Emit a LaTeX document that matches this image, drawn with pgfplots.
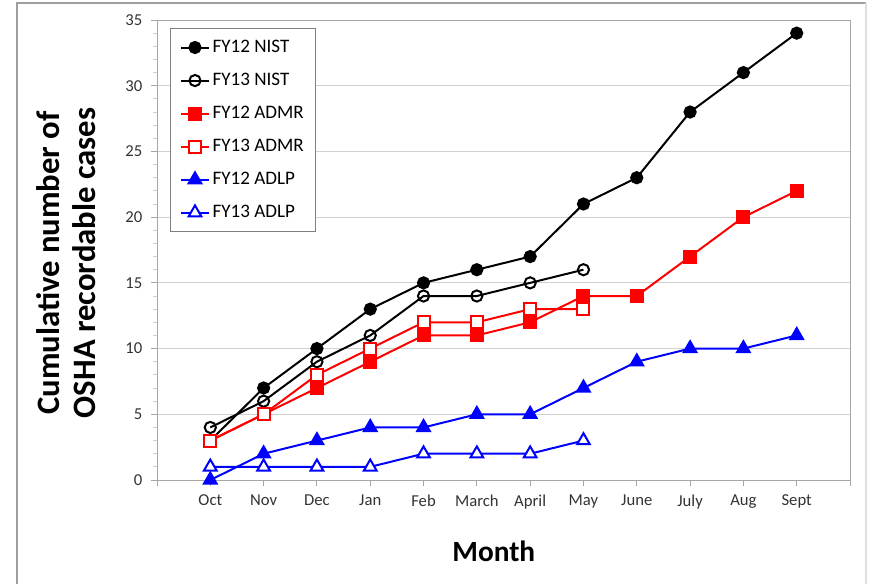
\documentclass[border=0pt]{standalone}
\usepackage{fontspec}
\setmainfont{Carlito}
\usepackage{pgfplots}
\pgfplotsset{compat=1.18}

\definecolor{axgray}{HTML}{A6A6A6}
\definecolor{gridgray}{HTML}{D0D0D0}
\definecolor{txtgray}{HTML}{333333}

\pgfplotstableread{
x nist12 nist13 admr12 admr13 adlp12 adlp13
0  3  4  3  3  0  1
1  7  6  5  5  2  1
2 10  9  7  8  3  1
3 13 11  9 10  4  1
4 15 14 11 12  4  2
5 16 14 11 12  5  2
6 17 15 12 13  5  2
7 21 16 14 13  7  3
8 23 nan 14 nan 9 nan
9 28 nan 17 nan 10 nan
10 31 nan 20 nan 10 nan
11 34 nan 22 nan 11 nan
}\cases

\begin{document}
\begin{tikzpicture}[x=1pt,y=1pt]
\path[use as bounding box] (0,0) rectangle (654.75,437.25);
\draw[gray!75, line width=0.8pt] (12.75,-2) -- (12.75,435) -- (649.5,435);
\draw[gray!25, line width=0.8pt] (649.5,435) -- (649.5,-2);
\begin{axis}[
  at={(117.75pt,77.25pt)}, anchor=south west,
  scale only axis, width=519.75pt, height=345pt,
  xmin=-1, xmax=12, ymin=0, ymax=35,
  xtick={-1,0,...,12},
  xticklabels={,Oct,Nov,Dec,Jan,Feb,March,April,May,June,July,Aug,Sept,},
  ytick={0,5,...,35}, minor y tick num=4,
  xtick pos=bottom, ytick pos=left,
  tick align=outside,
  major tick length=4.5pt, minor tick length=3pt,
  ymajorgrids,
  grid style={draw=gridgray, line width=0.75pt},
  axis line style={draw=axgray, line width=0.75pt},
  major tick style={draw=axgray, line width=0.75pt},
  minor tick style={draw=gridgray, line width=0.75pt},
  ticklabel style={font=\fontsize{12.5}{14}\selectfont, text=txtgray},
  /pgf/number format/assume math mode=true,
  xticklabel style={yshift=-3pt},
  yticklabel style={xshift=-3pt},
  xlabel={Month},
  ylabel={Cumulative number of\\OSHA recordable cases},
  every axis x label/.style={at={(axis description cs:0.486,-0.155)}, anchor=center, font=\fontsize{22}{26}\selectfont\bfseries},
  every axis y label/.style={at={(axis description cs:-0.131,0.472)}, rotate=90, anchor=center, align=center, font=\fontsize{24.5}{27.5}\selectfont\bfseries},
  legend style={at={(axis description cs:0.019,0.983)}, anchor=north west,
    draw=gray, line width=0.75pt, fill=white,
    font=\fontsize{14.3}{16}\selectfont, row sep=10pt,
    inner xsep=7pt, inner ysep=7pt},
  legend cell align=left,
  legend image code/.code={\draw[mark repeat=2,mark phase=2,#1] plot coordinates {(0pt,0pt) (10.5pt,0pt) (21pt,0pt)};},
  every axis plot/.append style={line width=1.5pt},
]
\addplot[black, mark=*, mark size=4.2pt, mark options={fill=black, solid}] table[x=x, y=nist12] {\cases};
\addplot[black, mark=o, mark size=4.2pt, mark options={fill=white, solid}] table[x=x, y=nist13] {\cases};
\addplot[red, mark=square*, mark size=4.5pt, mark options={fill=red, solid}] table[x=x, y=admr12] {\cases};
\addplot[red, mark=square*, mark size=4.5pt, mark options={fill=white, solid}] table[x=x, y=admr13] {\cases};
\addplot[blue, mark=triangle*, mark size=5.5pt, mark options={fill=blue, solid}] table[x=x, y=adlp12] {\cases};
\addplot[blue, mark=triangle*, mark size=5.5pt, mark options={fill=white, solid}] table[x=x, y=adlp13] {\cases};
\legend{FY12 NIST, FY13 NIST, FY12 ADMR, FY13 ADMR, FY12 ADLP, FY13 ADLP}
\end{axis}
\end{tikzpicture}
\end{document}
